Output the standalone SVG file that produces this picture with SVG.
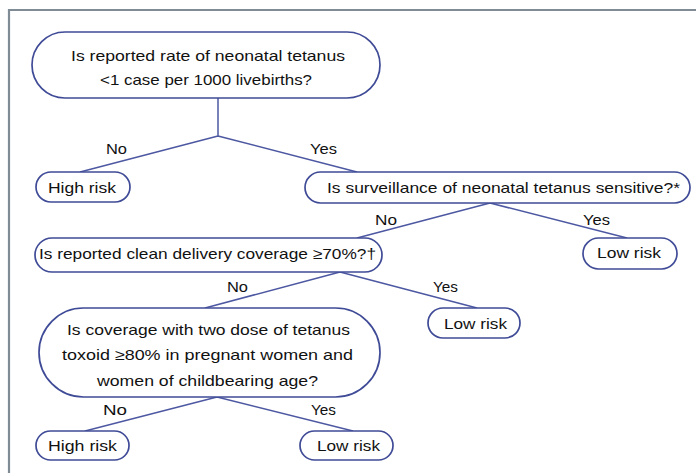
<svg xmlns="http://www.w3.org/2000/svg" width="696" height="473" viewBox="0 0 696 473">
<style>
.n{fill:#fff;stroke:#3f4b96;stroke-width:1.7}
.c{fill:none;stroke:#4d58a2;stroke-width:1.5}
text{font-family:"Liberation Sans",Arial,sans-serif;font-size:15px;fill:#111}
</style>
<rect width="696" height="473" fill="#fff"/>
<path d="M9,473 V10 H696" fill="none" stroke="#7f8b95" stroke-width="2.2"/>
<g id="connectors">
<path class="c" d="M218,98 V136 M218,136 L80,172 M218,136 L357,172"/>
<path class="c" d="M490,203 L357,238 M490,203 L627,238"/>
<path class="c" d="M340,272 L205,308 M340,272 L477,308"/>
<path class="c" d="M217,397 L85,431 M217,397 L353,431"/>
<text x="106" y="154" textLength="21" lengthAdjust="spacingAndGlyphs">No</text>
<text x="310" y="154" textLength="27" lengthAdjust="spacingAndGlyphs">Yes</text>
<text x="375" y="225" textLength="22" lengthAdjust="spacingAndGlyphs">No</text>
<text x="583" y="225" textLength="27" lengthAdjust="spacingAndGlyphs">Yes</text>
<text x="227" y="292" textLength="21" lengthAdjust="spacingAndGlyphs">No</text>
<text x="433" y="292" textLength="25" lengthAdjust="spacingAndGlyphs">Yes</text>
<text x="103" y="415" textLength="24" lengthAdjust="spacingAndGlyphs">No</text>
<text x="311" y="415" textLength="25" lengthAdjust="spacingAndGlyphs">Yes</text>
</g>
<g id="q1">
<rect class="n" x="32" y="32" width="348" height="66" rx="33"/>
<text x="71" y="61" textLength="274" lengthAdjust="spacingAndGlyphs">Is reported rate of neonatal tetanus</text>
<text x="100" y="85" textLength="212" lengthAdjust="spacingAndGlyphs">&lt;1 case per 1000 livebirths?</text>
</g>
<g id="high1">
<rect class="n" x="36" y="172" width="94" height="30" rx="15"/>
<text x="48" y="193" textLength="68" lengthAdjust="spacingAndGlyphs">High risk</text>
</g>
<g id="q2">
<rect class="n" x="305" y="172" width="385" height="31" rx="15.5"/>
<text x="327" y="193" textLength="353" lengthAdjust="spacingAndGlyphs">Is surveillance of neonatal tetanus sensitive?*</text>
</g>
<g id="q3">
<rect class="n" x="35" y="238" width="347" height="34" rx="17"/>
<text x="39" y="259" textLength="337" lengthAdjust="spacingAndGlyphs">Is reported clean delivery coverage ≥70%?†</text>
</g>
<g id="low1">
<rect class="n" x="583" y="238" width="94" height="31" rx="15.5"/>
<text x="597" y="258" textLength="64" lengthAdjust="spacingAndGlyphs">Low risk</text>
</g>
<g id="low2">
<rect class="n" x="428" y="308" width="92" height="30" rx="15"/>
<text x="444" y="329" textLength="63" lengthAdjust="spacingAndGlyphs">Low risk</text>
</g>
<g id="q4">
<rect class="n" x="39" y="308" width="341" height="89" rx="44.5"/>
<text x="67" y="335" textLength="283" lengthAdjust="spacingAndGlyphs">Is coverage with two dose of tetanus</text>
<text x="62" y="360" textLength="291" lengthAdjust="spacingAndGlyphs">toxoid ≥80% in pregnant women and</text>
<text x="97" y="386" textLength="221" lengthAdjust="spacingAndGlyphs">women of childbearing age?</text>
</g>
<g id="high2">
<rect class="n" x="36" y="431" width="93" height="29" rx="14.5"/>
<text x="48" y="451" textLength="69" lengthAdjust="spacingAndGlyphs">High risk</text>
</g>
<g id="low3">
<rect class="n" x="300" y="431" width="93" height="29" rx="14.5"/>
<text x="317" y="451" textLength="63" lengthAdjust="spacingAndGlyphs">Low risk</text>
</g>
</svg>
